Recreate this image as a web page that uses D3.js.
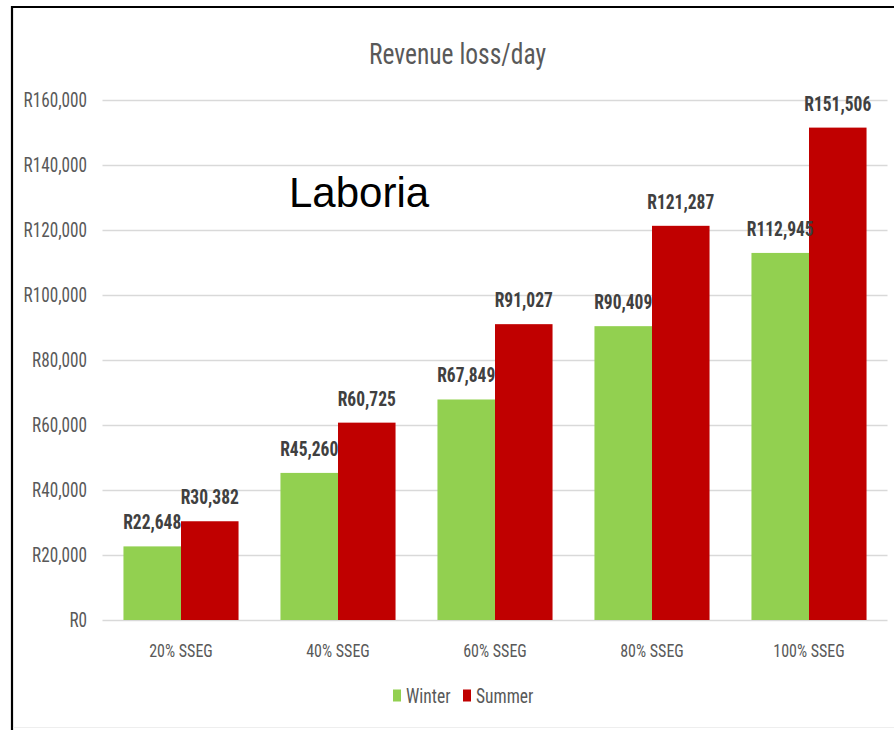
<!DOCTYPE html>
<html>
<head>
<meta charset="utf-8">
<script src="https://cdn.jsdelivr.net/npm/d3@7/dist/d3.min.js"></script>
<style>
  html, body { margin: 0; padding: 0; background: #fff; }
  svg { display: block; }
</style>
</head>
<body>
<svg id="chart" width="894" height="730"></svg>
<script>
const categories = ["20% SSEG", "40% SSEG", "60% SSEG", "80% SSEG", "100% SSEG"];
const winter = [22648, 45260, 67849, 90409, 112945];
const summer = [30382, 60725, 91027, 121287, 151506];
const seriesNames = ["Winter", "Summer"];
const seriesColors = ["#92D050", "#C00000"];
const yTicks = [0, 20000, 40000, 60000, 80000, 100000, 120000, 140000, 160000];
const title = "Revenue loss/day";
const overlayLabel = "Laboria";

const NARROW = "'Liberation Sans Narrow', 'Arial Narrow', 'Roboto Condensed', sans-serif";
const SY = 1.15;

const svg = d3.select("#chart");
const margin = { left: 102.5, right: 894 - 887.5, top: 100, bottom: 730 - 620 };

const x0 = d3.scaleBand().domain(categories).range([102.5, 887.5])
  .paddingInner(0.267).paddingOuter(0.1335);
const x1 = d3.scaleBand().domain(seriesNames).range([0, x0.bandwidth()]);
const y = d3.scaleLinear().domain([0, 160000]).range([620, 100]);

const fmt = v => "R" + d3.format(",")(v);

// frame
svg.append("rect").attr("x", 0).attr("y", 0).attr("width", 894).attr("height", 730).attr("fill", "#fff");
svg.append("line").attr("x1", 12).attr("x2", 12).attr("y1", 6).attr("y2", 730)
  .attr("stroke", "#000").attr("stroke-width", 2.2);
svg.append("line").attr("x1", 11).attr("x2", 894).attr("y1", 7).attr("y2", 7)
  .attr("stroke", "#000").attr("stroke-width", 2.2);
svg.append("line").attr("x1", 13).attr("x2", 894).attr("y1", 727.5).attr("y2", 727.5)
  .attr("stroke", "#eeeeee").attr("stroke-width", 1);

function stretchedText(g, xPos, yPos, txt, opts) {
  return g.append("text")
    .attr("transform", `translate(${xPos},${yPos}) scale(1,${SY})`)
    .attr("text-anchor", opts.anchor || "middle")
    .attr("font-family", opts.family || NARROW)
    .attr("font-size", opts.size)
    .attr("font-weight", opts.weight || "normal")
    .attr("fill", opts.fill || "#595959")
    .text(txt);
}

// gridlines via axis
const yAxis = d3.axisLeft(y).tickValues(yTicks).tickSize(-(887.5 - 102.5)).tickFormat("");
const gAxis = svg.append("g").attr("transform", "translate(102.5,0)").call(yAxis);
gAxis.select(".domain").remove();
gAxis.selectAll(".tick line").attr("stroke", "#d9d9d9").attr("stroke-width", 1.3);

// y tick labels
const gY = svg.append("g");
yTicks.forEach(t => {
  stretchedText(gY, 87, y(t) + 7, fmt(t), { anchor: "end", size: 17.2 });
});

// title
stretchedText(svg, 457.5, 64, title, { size: 25.5 });

// bars
const gBars = svg.append("g");
const data = categories.map((c, i) => ({ cat: c, vals: [winter[i], summer[i]] }));

// winter bars
gBars.selectAll("rect.w").data(data).join("rect").attr("class", "w")
  .attr("x", d => x0(d.cat) + x1("Winter"))
  .attr("y", d => y(d.vals[0]))
  .attr("width", x1.bandwidth())
  .attr("height", d => y(0) - y(d.vals[0]))
  .attr("fill", seriesColors[0]);

// winter labels
const gLab = svg.append("g");
data.forEach(d => {
  stretchedText(gLab, x0(d.cat) + x1("Winter") + x1.bandwidth() / 2, y(d.vals[0]) - 17,
    fmt(d.vals[0]), { size: 17.5, weight: "bold", fill: "#404040" });
});

// summer bars
gBars.selectAll("rect.s").data(data).join("rect").attr("class", "s")
  .attr("x", d => x0(d.cat) + x1("Summer"))
  .attr("y", d => y(d.vals[1]))
  .attr("width", x1.bandwidth())
  .attr("height", d => y(0) - y(d.vals[1]))
  .attr("fill", seriesColors[1]);

const gLab2 = svg.append("g");
data.forEach(d => {
  stretchedText(gLab2, x0(d.cat) + x1("Summer") + x1.bandwidth() / 2, y(d.vals[1]) - 17,
    fmt(d.vals[1]), { size: 17.5, weight: "bold", fill: "#404040" });
});

// x labels
const gX = svg.append("g");
categories.forEach(c => {
  stretchedText(gX, x0(c) + x0.bandwidth() / 2, 657, c, { size: 16 });
});

// legend
const gLeg = svg.append("g");
const legendItems = [
  { name: seriesNames[0], color: seriesColors[0], sx: 393, tx: 406 },
  { name: seriesNames[1], color: seriesColors[1], sx: 463, tx: 476 }
];
legendItems.forEach(it => {
  gLeg.append("rect").attr("x", it.sx).attr("y", 689.5).attr("width", 8).attr("height", 12).attr("fill", it.color);
  stretchedText(gLeg, it.tx, 703, it.name, { anchor: "start", size: 17.5 });
});

// overlay label
svg.append("text").attr("x", 289).attr("y", 207)
  .attr("font-family", "'Liberation Sans', Arial, sans-serif")
  .attr("font-size", 42).attr("fill", "#000").text(overlayLabel);
</script>
</body>
</html>
